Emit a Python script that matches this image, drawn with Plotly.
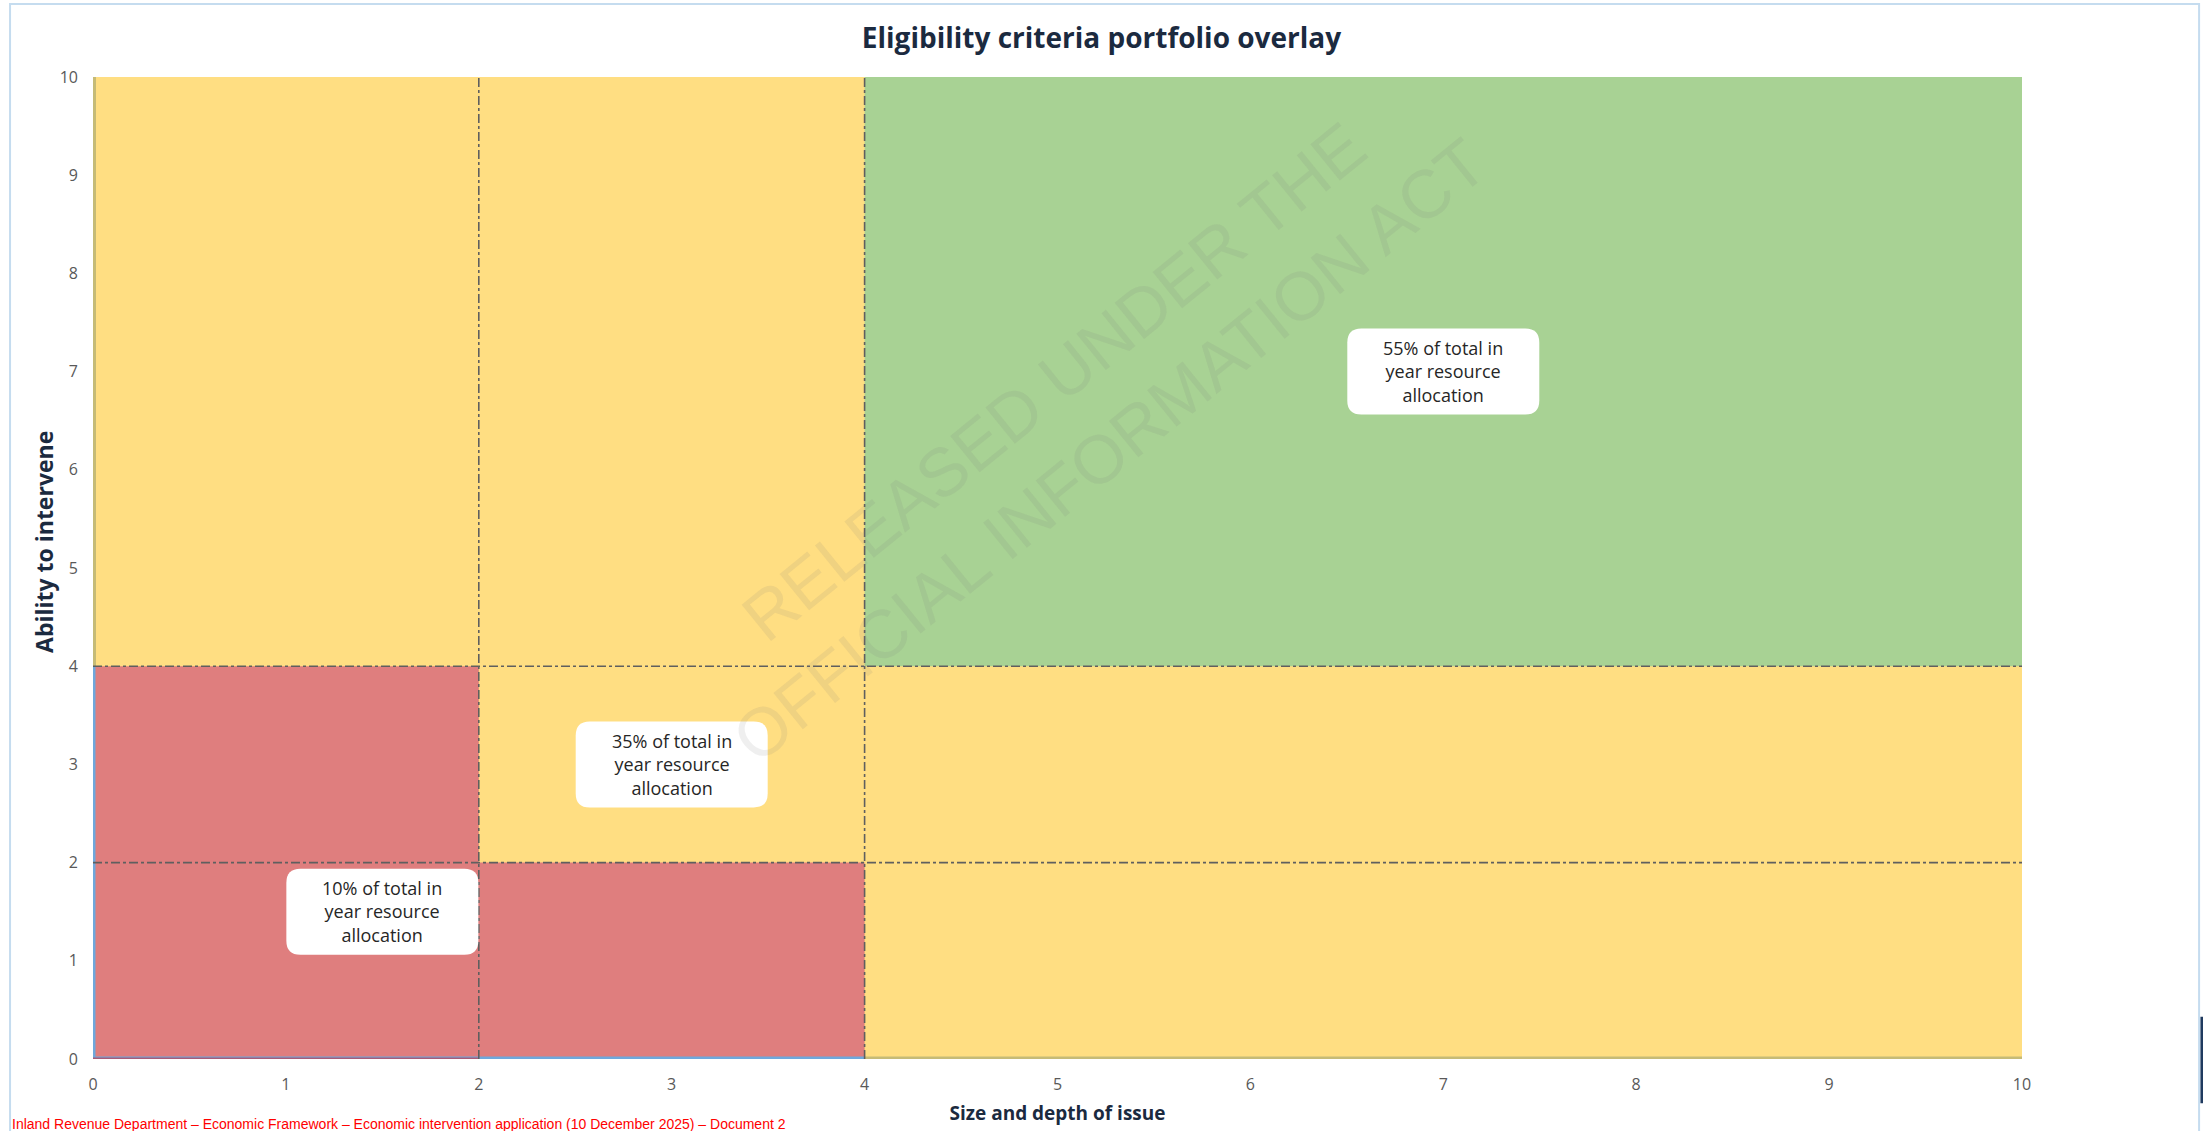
import plotly.graph_objects as go

# ---- data ----
axis_min, axis_max = 0, 10
tick_vals = [0, 1, 2, 3, 4, 5, 6, 7, 8, 9, 10]

# zone polygons (data units)
yellow_x = [0, 10, 10, 0, 0]
yellow_y = [0, 0, 10, 10, 0]
green_x = [4, 10, 10, 4, 4]
green_y = [4, 4, 10, 10, 4]
red_x = [0, 0, 2, 2, 4, 4, 0]
red_y = [0, 4, 4, 2, 2, 0, 0]

# threshold divider lines
divider_x = [2, 4]
divider_y = [2, 4]

# allocation labels
label_x = [1.5, 3.0, 7.0]
label_y = [1.5, 3.0, 7.0]
label_text = [
    "10% of total in<br>year resource<br>allocation",
    "35% of total in<br>year resource<br>allocation",
    "55% of total in<br>year resource<br>allocation",
]

title_text = "Eligibility criteria portfolio overlay"
x_title = "Size and depth of issue"
y_title = "Ability to intervene"
watermark = "RELEASED UNDER THE<br>OFFICIAL INFORMATION ACT"
footer = ("Inland Revenue Department – Economic Framework – Economic intervention "
          "application (10 December 2025) – Document 2")

# ---- styles ----
YELLOW = "#FFDE82"
GREEN = "#A8D294"
RED = "#DF7E7E"
OLIVE = "#C6BB76"
BLUE = "#6FA8DC"
FONT = "Open Sans"

fig = go.Figure()

for xs, ys, col in [(yellow_x, yellow_y, YELLOW), (green_x, green_y, GREEN), (red_x, red_y, RED)]:
    fig.add_trace(go.Scatter(x=xs, y=ys, fill="toself", fillcolor=col, mode="lines",
                             line=dict(width=0, color=col), hoverinfo="skip", showlegend=False))

# series edges
fig.add_trace(go.Scatter(x=[axis_min, axis_min], y=[divider_y[1], axis_max], mode="lines",
                         line=dict(color=OLIVE, width=6), showlegend=False, hoverinfo="skip"))
fig.add_trace(go.Scatter(x=[divider_x[1], axis_max], y=[axis_min, axis_min], mode="lines",
                         line=dict(color=OLIVE, width=5), showlegend=False, hoverinfo="skip"))
fig.add_trace(go.Scatter(x=[axis_min, axis_min], y=[axis_min, divider_y[1]], mode="lines",
                         line=dict(color=BLUE, width=5), showlegend=False, hoverinfo="skip"))
fig.add_trace(go.Scatter(x=[axis_min, divider_x[1]], y=[axis_min, axis_min], mode="lines",
                         line=dict(color=BLUE, width=5), showlegend=False, hoverinfo="skip"))
fig.add_trace(go.Scatter(x=[axis_min, divider_x[0]], y=[axis_min, axis_min], mode="lines",
                         line=dict(color="#A85C78", width=3), showlegend=False, hoverinfo="skip"))

# dash-dot dividers
for dx in divider_x:
    fig.add_trace(go.Scatter(x=[dx, dx], y=[axis_min, axis_max], mode="lines",
                             line=dict(color="#5F5F5F", width=1.6, dash="dashdot"),
                             showlegend=False, hoverinfo="skip"))
for dy in divider_y:
    fig.add_trace(go.Scatter(x=[axis_min, axis_max], y=[dy, dy], mode="lines",
                             line=dict(color="#5F5F5F", width=1.6, dash="dashdot"),
                             showlegend=False, hoverinfo="skip"))

# rounded label boxes
W, H, R = 192, 86, 14
hw, hh = W / 2, H / 2
path = (f"M {-hw + R},{-hh} L {hw - R},{-hh} Q {hw},{-hh} {hw},{-hh + R} "
        f"L {hw},{hh - R} Q {hw},{hh} {hw - R},{hh} L {-hw + R},{hh} "
        f"Q {-hw},{hh} {-hw},{hh - R} L {-hw},{-hh + R} Q {-hw},{-hh} {-hw + R},{-hh} Z")
for lx, ly, lt in zip(label_x, label_y, label_text):
    fig.add_shape(type="path", xref="x", yref="y", xsizemode="pixel", ysizemode="pixel",
                  xanchor=lx, yanchor=ly, path=path, fillcolor="white",
                  line=dict(width=0), layer="above")
    fig.add_annotation(x=lx, y=ly, text=lt, showarrow=False,
                       font=dict(family=FONT, size=18, color="#262626"))

# watermark
fig.add_annotation(x=0.512, y=0.655, xref="paper", yref="paper", text=watermark,
                   showarrow=False, textangle=-39,
                   font=dict(family="Liberation Sans", size=68, color="rgba(120,120,120,0.12)"))

# y-axis title (placed as in the reference, slightly above centre)
fig.add_annotation(x=-0.0254, y=0.5265, xref="paper", yref="paper",
                   text=f"<b>{y_title}</b>", showarrow=False, textangle=-90,
                   xanchor="center", yanchor="middle",
                   font=dict(family=FONT, size=23, color="#1B2A3F"))

# footer
fig.add_annotation(x=-0.043, y=-0.0555, xref="paper", yref="paper", xanchor="left", yanchor="top",
                   text=footer, showarrow=False,
                   font=dict(family="Liberation Sans", size=14, color="#FF0000"))

# page frame
fig.add_shape(type="rect", xref="paper", yref="paper", x0=-0.043, x1=1.0918, y0=-0.2, y1=1.0743,
              line=dict(color="#C5DCEF", width=2), fillcolor="rgba(0,0,0,0)", layer="below")
fig.add_shape(type="rect", xref="paper", yref="paper", x0=1.0925, x1=1.1, y0=-0.045, y1=0.043,
              line=dict(width=0), fillcolor="#1F3A5F")

fig.update_layout(
    width=2203, height=1131,
    margin=dict(l=93, r=181, t=77, b=72),
    paper_bgcolor="white", plot_bgcolor="white",
    title=dict(text=f"<b>{title_text}</b>", x=0.5, xref="container", xanchor="center",
               y=1 - 38 / 1131, yref="container", yanchor="middle",
               font=dict(family=FONT, size=28, color="#1B2A3F")),
    xaxis=dict(range=[axis_min, axis_max], tickvals=tick_vals, showgrid=False, zeroline=False,
               showline=False, ticks="", ticklabelstandoff=14,
               tickfont=dict(family=FONT, size=16, color="#595959"),
               title=dict(text=f"<b>{x_title}</b>", standoff=12,
                          font=dict(family=FONT, size=19, color="#1B2A3F"))),
    yaxis=dict(range=[axis_min, axis_max], tickvals=tick_vals, showgrid=False, zeroline=False,
               showline=False, ticks="", ticklabelstandoff=14,
               tickfont=dict(family=FONT, size=16, color="#595959")),
)

fig.write_html("out.html")
